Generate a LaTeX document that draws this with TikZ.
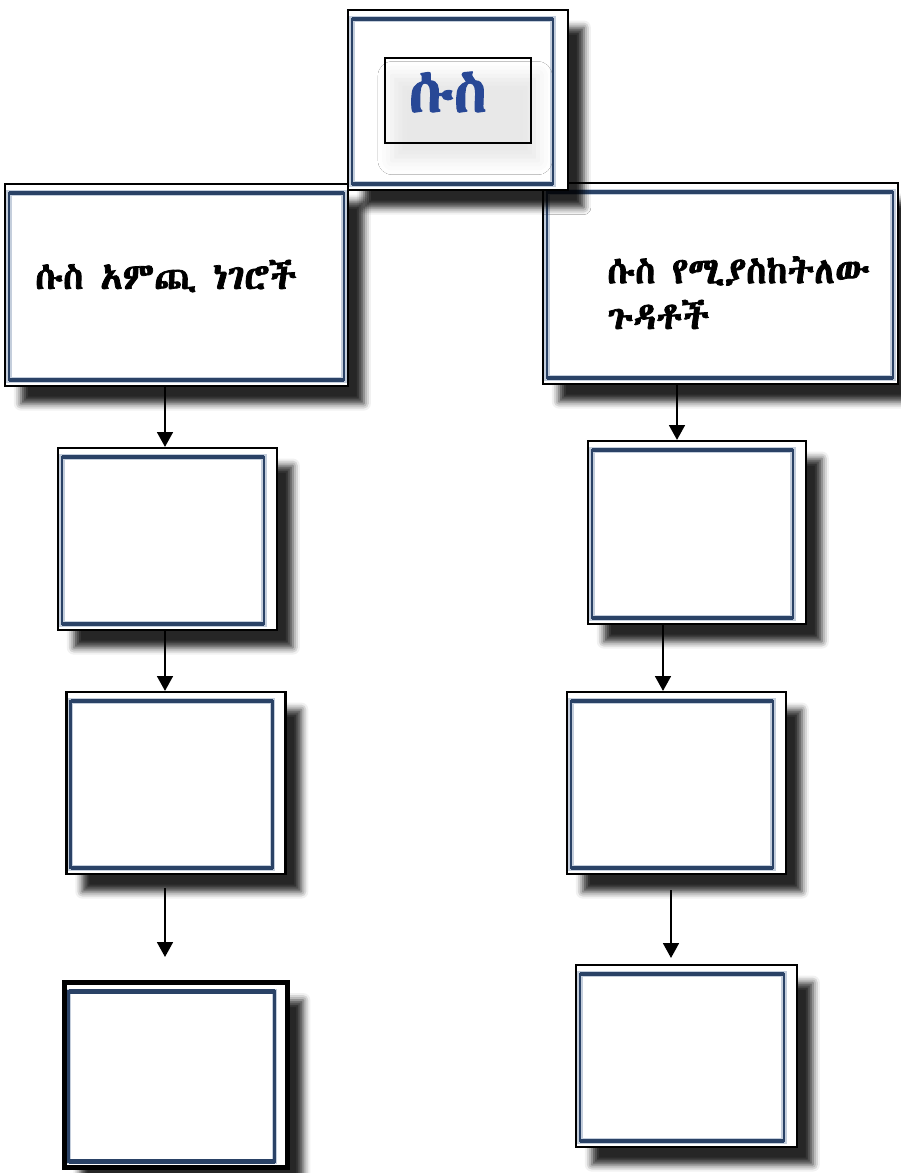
\documentclass[tikz,border=0pt]{standalone}
\usepackage{fontspec}
\IfFontExistsTF{Abyssinica SIL}{%
  \newfontfamily\ethfont[Script=Ethiopic,AutoFakeBold=2]{Abyssinica SIL}}{%
  \IfFontExistsTF{FreeSerif}{%
    \newfontfamily\ethfont[Script=Ethiopic,AutoFakeBold=2]{FreeSerif}}{%
    \IfFontExistsTF{FreeSans}{%
      \newfontfamily\ethfont[Script=Ethiopic,AutoFakeBold=2]{FreeSans}}{%
      \newfontfamily\ethfont{DejaVu Sans}}}}
\usetikzlibrary{shadows.blur,arrows.meta}

\definecolor{framenavy}{RGB}{42,66,102}
\definecolor{framehalo}{RGB}{196,206,220}
\definecolor{titleblue}{RGB}{40,72,150}

\begin{document}
\begin{tikzpicture}[
  x=0.02cm, y=-0.02cm,
  boxsize/.style 2 args={minimum width=#1*0.02cm, minimum height=#2*0.02cm},
  box/.style={draw=black, line width=1.2pt, fill=white, inner sep=0pt,
    blur shadow={shadow xshift=9pt, shadow yshift=-10pt,
      shadow opacity=85, shadow blur radius=4pt},
    path picture={
      \coordinate (fnw) at ([shift={(4,9)}]path picture bounding box.north west);
      \coordinate (fse) at ([shift={(-#1,-6)}]path picture bounding box.south east);
      \draw[framehalo, line width=3pt] (fnw) rectangle (fse);
      \draw[framenavy, line width=1.3pt] (fnw) rectangle (fse);
      \draw[framenavy, line width=2.6pt] (fnw) -- (fnw -| fse);
      \draw[framenavy, line width=2.6pt] (fse) -- (fse -| fnw);
    }},
  box/.default=13,
  boxtext/.style={font=\ethfont\bfseries\fontsize{21}{26}\selectfont,
    align=left, inner sep=0pt},
  link/.style={line width=1.3pt, -{Triangle[length=8.5pt,width=9pt]}},
  ]
  \useasboundingbox (0,0) rectangle (900,1173);

  %% Top row: two wide boxes
  \node[box=4, boxsize={343}{202}] (lbig) at (176.5,285) {};
  \node[box=5, boxsize={355}{201}] (rbig) at (720.5,283.5) {};
  \node[boxtext, anchor=west] (ltext) at (35,276) {ሱስ አምጪ ነገሮች};
  \node[boxtext, anchor=north west] (rtext) at (607,256) {ሱስ የሚያስከትለው\\ጉዳቶች};

  % Title box
  \node[box=15, boxsize={220}{180}] (top) at (458,100) {};
  \node[draw=black, line width=1.1pt, inner sep=0pt, boxsize={146}{85},
    blur shadow={shadow xshift=4pt, shadow yshift=-10pt,
      shadow opacity=9, shadow blur radius=8pt}] (titlebox) at (458,100.5) {};
  \node[font=\ethfont\bfseries\fontsize{34}{34}\selectfont, text=titleblue,
    inner sep=0pt] (title) at (448,92) {ሱስ};

  %% Left column
  \node[box, boxsize={219}{182}] (l1) at (167.5,539) {};
  \node[box, boxsize={219}{182}] (l2) at (176,783) {};
  \node[box, line width=3pt, boxsize={223}{185}] (l3) at (176,1075) {};

  %% Right column
  \node[box, boxsize={218}{183}] (r1) at (697,532.5) {};
  \node[box, boxsize={219}{182}] (r2) at (676.5,783) {};
  \node[box, boxsize={221}{182}] (r3) at (686.5,1056) {};

  % Arrows
  \coordinate (lcol) at (165,0);
  \coordinate (rcola) at (677,0);
  \coordinate (rcolb) at (663,0);
  \coordinate (lfrom) at (165,888);
  \coordinate (lto) at (165,957);
  \coordinate (rfrom) at (671,890);
  \coordinate (rto) at (671,958);

  \draw[link] (lcol |- lbig.south) -- (lcol |- l1.north);
  \draw[link] (lcol |- l1.south) -- (lcol |- l2.north);
  \draw[link] (lfrom) -- (lto);
  \draw[link] (rcola |- rbig.south) -- (rcola |- r1.north);
  \draw[link] (rcolb |- r1.south) -- (rcolb |- r2.north);
  \draw[link] (rfrom) -- (rto);

\end{tikzpicture}
\end{document}
